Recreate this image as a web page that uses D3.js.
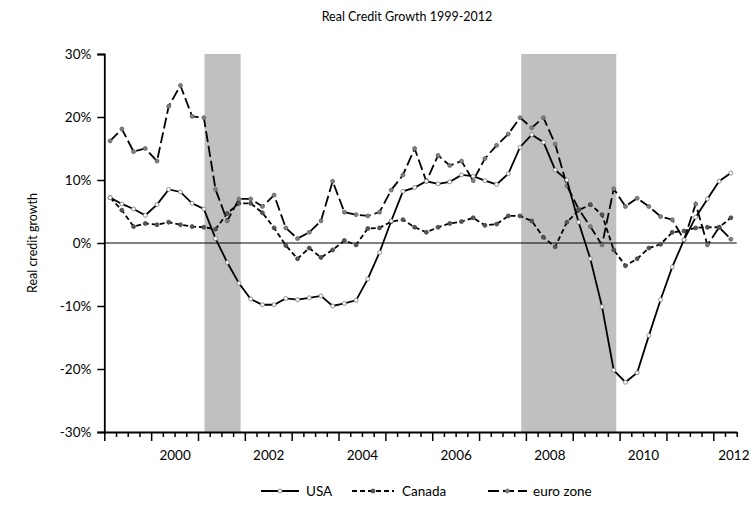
<!DOCTYPE html>
<html>
<head>
<meta charset="utf-8">
<script src="https://cdn.jsdelivr.net/npm/d3@7"></script>
<style>
  html, body { margin: 0; padding: 0; background: #fff; }
  svg { display: block; font-family: Lato, "Open Sans", sans-serif; }
</style>
</head>
<body>
<svg id="chart" width="751" height="516"></svg>
<script>
// ---- data (quarterly, 1999Q1 .. 2012Q2) ----
const startYear = 1999;
const usa = [7.2, 6.2, 5.4, 4.4, 6.1, 8.5, 8.1, 6.3, 5.4, 0.7,
  -3.1, -6.4, -8.9, -9.8, -9.8, -8.8, -9.0, -8.7, -8.4, -10.0,
  -9.6, -9.1, -5.7, -1.5, 3.5, 8.2, 8.8, 9.8, 9.4, 9.7,
  10.8, 10.6, 9.9, 9.3, 11.0, 15.2, 17.2, 16.0, 11.6, 10.0,
  3.3, -2.5, -10.1, -20.2, -22.1, -20.6, -14.7, -9.0, -3.8, 0.5,
  4.1, 7.0, 9.8, 11.1];
const canada = [7.2, 5.2, 2.6, 3.1, 2.9, 3.3, 2.9, 2.6, 2.5, 2.2,
  4.7, 6.3, 6.3, 4.8, 2.4, -0.4, -2.5, -0.8, -2.3, -1.1,
  0.4, -0.3, 2.3, 2.4, 3.4, 3.7, 2.5, 1.7, 2.5, 3.1,
  3.4, 4.0, 2.8, 3.0, 4.3, 4.3, 3.5, 0.9, -0.6, 3.3,
  5.2, 6.1, 4.5, -1.1, -3.6, -2.5, -0.8, -0.2, 1.7, 1.9,
  2.4, 2.5, 2.5, 4.0];
const euroZone = [16.2, 18.1, 14.5, 15.0, 13.0, 21.7, 25.0, 20.1, 19.9, 8.5,
  3.5, 7.0, 7.0, 5.8, 7.6, 2.4, 0.7, 1.7, 3.5, 9.8,
  4.9, 4.5, 4.3, 4.9, 8.4, 10.8, 15.0, 9.8, 13.9, 12.3,
  13.0, 9.9, 13.4, 15.5, 17.3, 19.9, 18.3, 19.9, 15.7, 9.1,
  5.4, 2.6, -0.3, 8.6, 5.8, 7.1, 5.8, 4.2, 3.7, 0.5,
  6.2, -0.3, 2.5, 0.6];
const seriesNames = ["USA", "Canada", "euro zone"];
const recessions = [[2001.14, 2001.91], [2007.9, 2009.93]];
const yTicks = [-30, -20, -10, 0, 10, 20, 30];
const xLabelYears = [2000, 2002, 2004, 2006, 2008, 2010, 2012];
const title = "Real Credit Growth 1999-2012";
const yTitle = "Real credit growth";

// ---- layout ----
const svg = d3.select("#chart");
const L = 104.3, R = 736.7, T = 54, B = 432;
const x = d3.scaleLinear().domain([startYear, startYear + usa.length / 4]).range([L, R]);
const y = d3.scaleLinear().domain([-30, 30]).range([B, T]);
const qx = i => x(startYear + (i + 0.5) / 4);

// recession bands
svg.append("g").selectAll("rect").data(recessions).join("rect")
  .attr("x", d => x(d[0])).attr("width", d => x(d[1]) - x(d[0]))
  .attr("y", T).attr("height", B - T).attr("fill", "#c0c0c0");

// zero line
svg.append("line").attr("x1", L).attr("x2", R).attr("y1", y(0)).attr("y2", y(0))
  .attr("stroke", "#000").attr("stroke-width", 1);

const styles = [
  { data: usa, dash: null, mFill: "#fff", mStroke: "#777" },
  { data: canada, dash: "5,3", mFill: "#555", mStroke: "#444" },
  { data: euroZone, dash: "11,4", mFill: "#808080", mStroke: "#666" }
];
const line = d3.line().x((d, i) => qx(i)).y(d => y(d));
styles.slice().reverse().forEach(s => {
  const g = svg.append("g");
  g.append("path").datum(s.data).attr("d", line)
    .attr("fill", "none").attr("stroke", "#000").attr("stroke-width", 1.8)
    .attr("stroke-dasharray", s.dash);
  g.selectAll("circle").data(s.data).join("circle")
    .attr("cx", (d, i) => qx(i)).attr("cy", d => y(d)).attr("r", 2)
    .attr("fill", s.mFill).attr("stroke", s.mStroke).attr("stroke-width", 0.8);
});

// axes
const fontSize = 13.5;
const yAxis = svg.append("g").attr("transform", `translate(${L},0)`)
  .call(d3.axisLeft(y).tickValues(yTicks).tickFormat(d => d + "%").tickSize(7).tickPadding(6));
const qTicks = d3.range(0, usa.length + 1).map(i => startYear + i / 4);
const xAxis = svg.append("g").attr("transform", `translate(0,${B})`)
  .call(d3.axisBottom(x).tickValues(qTicks).tickFormat("").tickSize(5).tickSizeOuter(0));
xAxis.selectAll(".tick line").attr("y2", d => Math.abs(d - Math.round(d)) < 1e-6 ? 9 : 5);
const xLab = svg.append("g").attr("transform", `translate(0,${B})`)
  .call(d3.axisBottom(x).tickValues(xLabelYears.map(v => v + 0.5)).tickFormat(d => String(Math.floor(d))).tickSize(0).tickPadding(18));
xLab.select(".domain").remove();
// keep the last label inside the canvas
xLab.selectAll(".tick text").filter(d => x(d) + 17 > 750)
  .attr("text-anchor", "end").attr("x", d => 749 - x(d));
[yAxis, xAxis, xLab].forEach(g => {
  g.selectAll(".domain").attr("stroke", "#000").attr("stroke-width", 1.8);
  g.selectAll(".tick line").attr("stroke", "#000").attr("stroke-width", 1.5);
  g.selectAll("text").attr("font-family", "Lato, 'Open Sans', sans-serif")
    .attr("font-size", fontSize).attr("fill", "#000");
});

// titles
svg.append("text").attr("x", 407).attr("y", 21).attr("text-anchor", "middle")
  .attr("font-size", 12.5).text(title);
svg.append("text").attr("transform", `translate(37,${(T + B) / 2}) rotate(-90)`)
  .attr("text-anchor", "middle").attr("font-size", 12.5).text(yTitle);

// legend
const legendItems = [
  { name: seriesNames[0], s: styles[0], x0: 261, x1: 299, tx: 306 },
  { name: seriesNames[1], s: styles[1], x0: 352, x1: 394, tx: 402 },
  { name: seriesNames[2], s: styles[2], x0: 488, x1: 527, tx: 533 }
];
const ly = 491;
const lg = svg.append("g");
legendItems.forEach(it => {
  lg.append("line").attr("x1", it.x0).attr("x2", it.x1).attr("y1", ly).attr("y2", ly)
    .attr("stroke", "#000").attr("stroke-width", 1.8).attr("stroke-dasharray", it.s.dash);
  lg.append("circle").attr("cx", (it.x0 + it.x1) / 2).attr("cy", ly).attr("r", 2)
    .attr("fill", it.s.mFill).attr("stroke", it.s.mStroke).attr("stroke-width", 0.8);
  lg.append("text").attr("x", it.tx).attr("y", ly).attr("dy", "0.35em")
    .attr("font-size", fontSize).text(it.name);
});
</script>
</body>
</html>
